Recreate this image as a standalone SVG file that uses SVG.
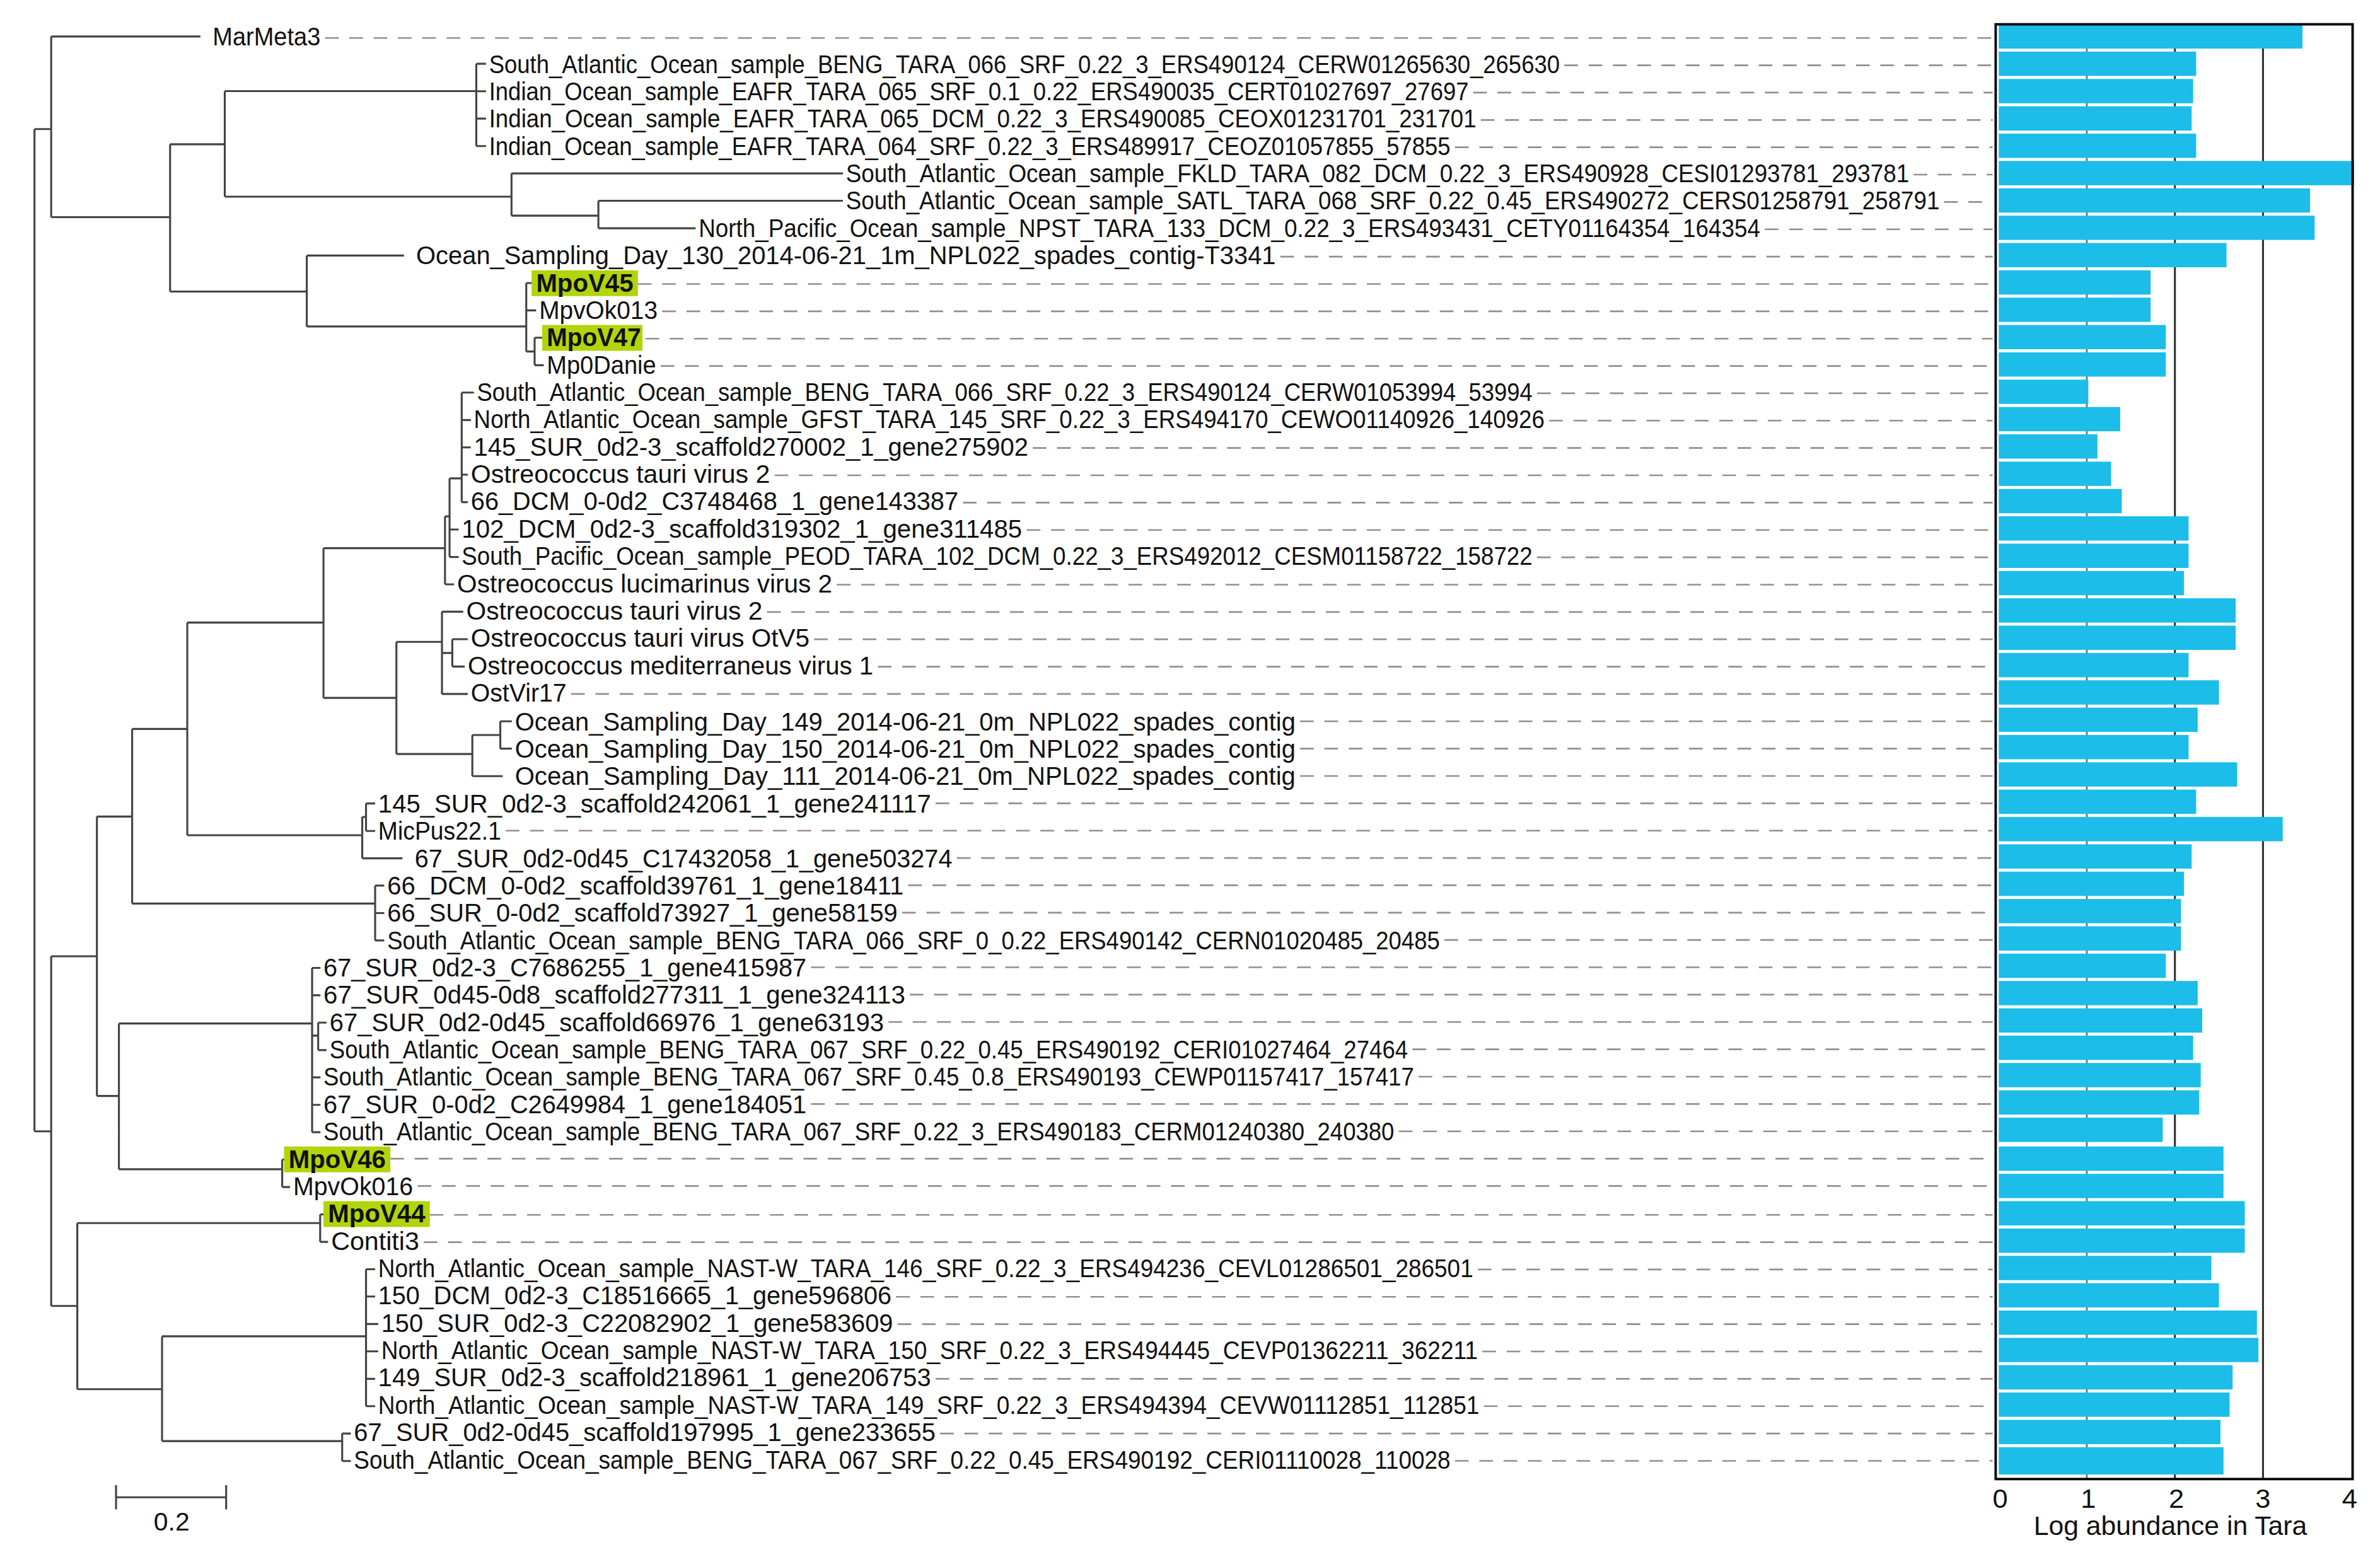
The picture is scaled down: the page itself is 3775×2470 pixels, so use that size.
<svg xmlns="http://www.w3.org/2000/svg" width="3775" height="2470" viewBox="0 0 3775 2470">
<style>
.t{font-family:"Liberation Sans",Arial,sans-serif;font-size:17px;fill:#111}
.b{font-weight:bold}
.hl{fill:#b2d40a}
.br{stroke:#444;stroke-width:1.3;fill:none}
.d{stroke:#9b8c8c;stroke-width:1.1;stroke-dasharray:9 7;fill:none}
.bar{fill:#1cbde9}
.ax{font-family:"Liberation Sans",Arial,sans-serif;font-size:18px;fill:#111}
</style>
<rect width="3775" height="2470" fill="#fff"/>
<g transform="scale(2.409)">
<g id="connectors">
<path class="br" d="M22.7 85V745M22.7 85H33.7M22.7 745H33.7
M33.7 24V143M33.7 24H132M33.7 143H112
M112 95V192M112 95H148M112 192H202
M148 60V129.5M148 60H313.6M148 129.5H336.8
M313.6 42V96.2M313.6 42H320M313.6 60.1H320M313.6 78.1H320M313.6 96.2H320
M336.8 114.2V142M336.8 114.2H555M336.8 142H394
M394 132.2V150.3M394 132.2H555M394 150.3H458
M202 168.3V215M202 168.3H266M202 215H346.5
M346.5 186.4V231.5M346.5 186.4H351M346.5 204.4H353M346.5 231.5H352
M352 222.4V240.5M352 222.4H358M352 240.5H358
M33.7 629.7V860M33.7 629.7H63.8M33.7 860H50.9
M63.8 537.7V721.7M63.8 537.7H87M63.8 721.7H78.3
M87 480V595M87 480H123.3M87 595H247
M123.3 410V550M123.3 410H213M123.3 550H238.5
M213 361V459.6M213 361H293M213 459.6H261
M293 340V384.8M293 340H296M293 384.8H299
M296 315V366.8M296 315H304M296 348.7H302M296 366.8H302
M304 258.5V330.7M304 258.5H312M304 276.6H310M304 294.6H310M304 312.6H308M304 330.7H308
M261 422.7V496.5M261 422.7H291M261 496.5H311
M291 402.8V457M291 402.8H305M291 430H297.8M291 457H308
M297.8 420.9V438.9M297.8 420.9H308M297.8 438.9H306
M311 484V511.1M311 484H329.4M311 511.1H331
M329.4 475V493M329.4 475H337M329.4 493H337
M238.5 538V565.2M238.5 538H241M238.5 565.2H265
M241 529.1V547.2M241 529.1H247M241 547.2H247
M247 583.2V619.3M247 583.2H253M247 601.3H253M247 619.3H253
M78.3 674V770M78.3 674H205.5M78.3 770H185.8
M205.5 637.4V745.6M205.5 637.4H211M205.5 655.4H211M205.5 682H209.5M205.5 709.5H211M205.5 727.6H211M205.5 745.6H211
M209.5 673.4V691.5M209.5 673.4H215M209.5 691.5H215
M185.8 763.6V781.7M185.8 763.6H188M185.8 781.7H191
M50.9 805.4V914.8M50.9 805.4H210.8M50.9 914.8H106.7
M210.8 799.7V817.8M210.8 799.7H214M210.8 817.8H216
M106.7 880V949M106.7 880H241M106.7 949H225.3
M241 835.8V926M241 835.8H247M241 853.8H247M241 871.9H249M241 889.9H249M241 908H247M241 926H247
M225.3 944V962.1M225.3 944H231M225.3 962.1H231"/>
<path class="d" d="M214 25H1312M1030 43H1312M970 61H1312M975 79H1312M958 97H1312M1260 115H1312M1280 133H1312M1162 151H1312M843 169H1312M420 187H1312M436 205H1312M425 223H1312M435 241H1312M1012 259H1312M1020 277H1312M680 295H1312M510 313H1312M634 331H1312M676 349H1312M1012 367H1312M551 385H1312M505 403H1312M536 421H1312M578 439H1312M376 457H1312M856 475H1312M856 493H1312M856 511H1312M616 529H1312M333 547H1312M630 565H1312M598 583H1312M594 601H1312M951 619H1312M534 637H1312M599 655H1312M585 673H1312M930 691H1312M934 709H1312M534 727H1312M921 745H1312M257 763H1312M275 781H1312M283 800H1312M279 818H1312M973 836H1312M590 854H1312M591 872H1312M976 890H1312M616 908H1312M977 926H1312M619 944H1312M958 962H1312"/>
<path class="br" d="M76.4 986H148.9M76.4 978V994M148.9 978V994"/>
</g>
<g id="scale"><text class="t" x="113" y="1008" text-anchor="middle">0.2</text></g>
<g id="highlights">
<rect class="hl" x="350" y="178" width="70" height="17"/>
<rect class="hl" x="357" y="214" width="66" height="17"/>
<rect class="hl" x="187" y="755" width="70" height="17"/>
<rect class="hl" x="213" y="791" width="70" height="17"/>
</g>
<g id="labels" class="t">
<text x="140" y="30" textLength="71" lengthAdjust="spacingAndGlyphs">MarMeta3</text>
<text x="322" y="48" textLength="705" lengthAdjust="spacingAndGlyphs">South_Atlantic_Ocean_sample_BENG_TARA_066_SRF_0.22_3_ERS490124_CERW01265630_265630</text>
<text x="322" y="66" textLength="645" lengthAdjust="spacingAndGlyphs">Indian_Ocean_sample_EAFR_TARA_065_SRF_0.1_0.22_ERS490035_CERT01027697_27697</text>
<text x="322" y="84" textLength="650" lengthAdjust="spacingAndGlyphs">Indian_Ocean_sample_EAFR_TARA_065_DCM_0.22_3_ERS490085_CEOX01231701_231701</text>
<text x="322" y="102" textLength="633" lengthAdjust="spacingAndGlyphs">Indian_Ocean_sample_EAFR_TARA_064_SRF_0.22_3_ERS489917_CEOZ01057855_57855</text>
<text x="557" y="120" textLength="700" lengthAdjust="spacingAndGlyphs">South_Atlantic_Ocean_sample_FKLD_TARA_082_DCM_0.22_3_ERS490928_CESI01293781_293781</text>
<text x="557" y="138" textLength="720" lengthAdjust="spacingAndGlyphs">South_Atlantic_Ocean_sample_SATL_TARA_068_SRF_0.22_0.45_ERS490272_CERS01258791_258791</text>
<text x="460" y="156" textLength="699" lengthAdjust="spacingAndGlyphs">North_Pacific_Ocean_sample_NPST_TARA_133_DCM_0.22_3_ERS493431_CETY01164354_164354</text>
<text x="274" y="174" textLength="566" lengthAdjust="spacingAndGlyphs">Ocean_Sampling_Day_130_2014-06-21_1m_NPL022_spades_contig-T3341</text>
<text class="t b" x="353" y="192" textLength="64" lengthAdjust="spacingAndGlyphs">MpoV45</text>
<text x="355" y="210" textLength="78" lengthAdjust="spacingAndGlyphs">MpvOk013</text>
<text class="t b" x="360" y="228" textLength="62" lengthAdjust="spacingAndGlyphs">MpoV47</text>
<text x="360" y="246" textLength="72" lengthAdjust="spacingAndGlyphs">Mp0Danie</text>
<text x="314" y="264" textLength="695" lengthAdjust="spacingAndGlyphs">South_Atlantic_Ocean_sample_BENG_TARA_066_SRF_0.22_3_ERS490124_CERW01053994_53994</text>
<text x="312" y="282" textLength="705" lengthAdjust="spacingAndGlyphs">North_Atlantic_Ocean_sample_GFST_TARA_145_SRF_0.22_3_ERS494170_CEWO01140926_140926</text>
<text x="312" y="300" textLength="365" lengthAdjust="spacingAndGlyphs">145_SUR_0d2-3_scaffold270002_1_gene275902</text>
<text x="310" y="318" textLength="197" lengthAdjust="spacingAndGlyphs">Ostreococcus tauri virus 2</text>
<text x="310" y="336" textLength="321" lengthAdjust="spacingAndGlyphs">66_DCM_0-0d2_C3748468_1_gene143387</text>
<text x="304" y="354" textLength="369" lengthAdjust="spacingAndGlyphs">102_DCM_0d2-3_scaffold319302_1_gene311485</text>
<text x="304" y="372" textLength="705" lengthAdjust="spacingAndGlyphs">South_Pacific_Ocean_sample_PEOD_TARA_102_DCM_0.22_3_ERS492012_CESM01158722_158722</text>
<text x="301" y="390" textLength="247" lengthAdjust="spacingAndGlyphs">Ostreococcus lucimarinus virus 2</text>
<text x="307" y="408" textLength="195" lengthAdjust="spacingAndGlyphs">Ostreococcus tauri virus 2</text>
<text x="310" y="426" textLength="223" lengthAdjust="spacingAndGlyphs">Ostreococcus tauri virus OtV5</text>
<text x="308" y="444" textLength="267" lengthAdjust="spacingAndGlyphs">Ostreococcus mediterraneus virus 1</text>
<text x="310" y="462" textLength="63" lengthAdjust="spacingAndGlyphs">OstVir17</text>
<text x="339" y="481" textLength="514" lengthAdjust="spacingAndGlyphs">Ocean_Sampling_Day_149_2014-06-21_0m_NPL022_spades_contig</text>
<text x="339" y="499" textLength="514" lengthAdjust="spacingAndGlyphs">Ocean_Sampling_Day_150_2014-06-21_0m_NPL022_spades_contig</text>
<text x="339" y="517" textLength="514" lengthAdjust="spacingAndGlyphs">Ocean_Sampling_Day_111_2014-06-21_0m_NPL022_spades_contig</text>
<text x="249" y="535" textLength="364" lengthAdjust="spacingAndGlyphs">145_SUR_0d2-3_scaffold242061_1_gene241117</text>
<text x="249" y="553" textLength="81" lengthAdjust="spacingAndGlyphs">MicPus22.1</text>
<text x="273" y="571" textLength="354" lengthAdjust="spacingAndGlyphs">67_SUR_0d2-0d45_C17432058_1_gene503274</text>
<text x="255" y="589" textLength="340" lengthAdjust="spacingAndGlyphs">66_DCM_0-0d2_scaffold39761_1_gene18411</text>
<text x="255" y="607" textLength="336" lengthAdjust="spacingAndGlyphs">66_SUR_0-0d2_scaffold73927_1_gene58159</text>
<text x="255" y="625" textLength="693" lengthAdjust="spacingAndGlyphs">South_Atlantic_Ocean_sample_BENG_TARA_066_SRF_0_0.22_ERS490142_CERN01020485_20485</text>
<text x="213" y="643" textLength="318" lengthAdjust="spacingAndGlyphs">67_SUR_0d2-3_C7686255_1_gene415987</text>
<text x="213" y="661" textLength="383" lengthAdjust="spacingAndGlyphs">67_SUR_0d45-0d8_scaffold277311_1_gene324113</text>
<text x="217" y="679" textLength="365" lengthAdjust="spacingAndGlyphs">67_SUR_0d2-0d45_scaffold66976_1_gene63193</text>
<text x="217" y="697" textLength="710" lengthAdjust="spacingAndGlyphs">South_Atlantic_Ocean_sample_BENG_TARA_067_SRF_0.22_0.45_ERS490192_CERI01027464_27464</text>
<text x="213" y="715" textLength="718" lengthAdjust="spacingAndGlyphs">South_Atlantic_Ocean_sample_BENG_TARA_067_SRF_0.45_0.8_ERS490193_CEWP01157417_157417</text>
<text x="213" y="733" textLength="318" lengthAdjust="spacingAndGlyphs">67_SUR_0-0d2_C2649984_1_gene184051</text>
<text x="213" y="751" textLength="705" lengthAdjust="spacingAndGlyphs">South_Atlantic_Ocean_sample_BENG_TARA_067_SRF_0.22_3_ERS490183_CERM01240380_240380</text>
<text class="t b" x="190" y="769" textLength="64" lengthAdjust="spacingAndGlyphs">MpoV46</text>
<text x="193" y="787" textLength="79" lengthAdjust="spacingAndGlyphs">MpvOk016</text>
<text class="t b" x="216" y="805" textLength="64" lengthAdjust="spacingAndGlyphs">MpoV44</text>
<text x="218" y="823" textLength="58" lengthAdjust="spacingAndGlyphs">Contiti3</text>
<text x="249" y="841" textLength="721" lengthAdjust="spacingAndGlyphs">North_Atlantic_Ocean_sample_NAST-W_TARA_146_SRF_0.22_3_ERS494236_CEVL01286501_286501</text>
<text x="249" y="859" textLength="338" lengthAdjust="spacingAndGlyphs">150_DCM_0d2-3_C18516665_1_gene596806</text>
<text x="251" y="877" textLength="337" lengthAdjust="spacingAndGlyphs">150_SUR_0d2-3_C22082902_1_gene583609</text>
<text x="251" y="895" textLength="722" lengthAdjust="spacingAndGlyphs">North_Atlantic_Ocean_sample_NAST-W_TARA_150_SRF_0.22_3_ERS494445_CEVP01362211_362211</text>
<text x="249" y="913" textLength="364" lengthAdjust="spacingAndGlyphs">149_SUR_0d2-3_scaffold218961_1_gene206753</text>
<text x="249" y="931" textLength="725" lengthAdjust="spacingAndGlyphs">North_Atlantic_Ocean_sample_NAST-W_TARA_149_SRF_0.22_3_ERS494394_CEVW01112851_112851</text>
<text x="233" y="949" textLength="383" lengthAdjust="spacingAndGlyphs">67_SUR_0d2-0d45_scaffold197995_1_gene233655</text>
<text x="233" y="967" textLength="722" lengthAdjust="spacingAndGlyphs">South_Atlantic_Ocean_sample_BENG_TARA_067_SRF_0.22_0.45_ERS490192_CERI01110028_110028</text>
</g>
<g id="chart">
<line x1="1374" y1="16" x2="1374" y2="974" stroke="#777" stroke-width="1.2"/>
<line x1="1432" y1="16" x2="1432" y2="974" stroke="#333" stroke-width="1.3"/>
<line x1="1490" y1="16" x2="1490" y2="974" stroke="#333" stroke-width="1.3"/>
<g class="bar">
<rect x="1316" y="16" width="200" height="16"/>
<rect x="1316" y="34" width="130" height="16"/>
<rect x="1316" y="52" width="128" height="16"/>
<rect x="1316" y="70" width="127" height="16"/>
<rect x="1316" y="88" width="130" height="16"/>
<rect x="1316" y="106" width="234" height="16"/>
<rect x="1316" y="124" width="205" height="16"/>
<rect x="1316" y="142" width="208" height="16"/>
<rect x="1316" y="160" width="150" height="16"/>
<rect x="1316" y="178" width="100" height="16"/>
<rect x="1316" y="196" width="100" height="16"/>
<rect x="1316" y="214" width="110" height="16"/>
<rect x="1316" y="232" width="110" height="16"/>
<rect x="1316" y="250" width="59" height="16"/>
<rect x="1316" y="268" width="80" height="16"/>
<rect x="1316" y="286" width="65" height="16"/>
<rect x="1316" y="304" width="74" height="16"/>
<rect x="1316" y="322" width="81" height="16"/>
<rect x="1316" y="340" width="125" height="16"/>
<rect x="1316" y="358" width="125" height="16"/>
<rect x="1316" y="376" width="122" height="16"/>
<rect x="1316" y="394" width="156" height="16"/>
<rect x="1316" y="412" width="156" height="16"/>
<rect x="1316" y="430" width="125" height="16"/>
<rect x="1316" y="448" width="145" height="16"/>
<rect x="1316" y="466" width="131" height="16"/>
<rect x="1316" y="484" width="125" height="16"/>
<rect x="1316" y="502" width="157" height="16"/>
<rect x="1316" y="520" width="130" height="16"/>
<rect x="1316" y="538" width="187" height="16"/>
<rect x="1316" y="556" width="127" height="16"/>
<rect x="1316" y="574" width="122" height="16"/>
<rect x="1316" y="592" width="120" height="16"/>
<rect x="1316" y="610" width="120" height="16"/>
<rect x="1316" y="628" width="110" height="16"/>
<rect x="1316" y="646" width="131" height="16"/>
<rect x="1316" y="664" width="134" height="16"/>
<rect x="1316" y="682" width="128" height="16"/>
<rect x="1316" y="700" width="133" height="16"/>
<rect x="1316" y="718" width="132" height="16"/>
<rect x="1316" y="736" width="108" height="16"/>
<rect x="1316" y="755" width="148" height="16"/>
<rect x="1316" y="773" width="148" height="16"/>
<rect x="1316" y="791" width="162" height="16"/>
<rect x="1316" y="809" width="162" height="16"/>
<rect x="1316" y="827" width="140" height="16"/>
<rect x="1316" y="845" width="145" height="16"/>
<rect x="1316" y="863" width="170" height="16"/>
<rect x="1316" y="881" width="171" height="16"/>
<rect x="1316" y="899" width="154" height="16"/>
<rect x="1316" y="917" width="152" height="16"/>
<rect x="1316" y="935" width="146" height="16"/>
<rect x="1316" y="953" width="148" height="18"/>
</g>
<rect x="1314" y="16" width="235" height="958" fill="none" stroke="#000" stroke-width="1.6"/>
<g class="ax" text-anchor="middle">
<text x="1317" y="993">0</text>
<text x="1375" y="993">1</text>
<text x="1433" y="993">2</text>
<text x="1490" y="993">3</text>
<text x="1547" y="993">4</text>
<text x="1429" y="1011" textLength="180" lengthAdjust="spacingAndGlyphs">Log abundance in Tara</text>
</g>
</g>
</g>
</svg>
